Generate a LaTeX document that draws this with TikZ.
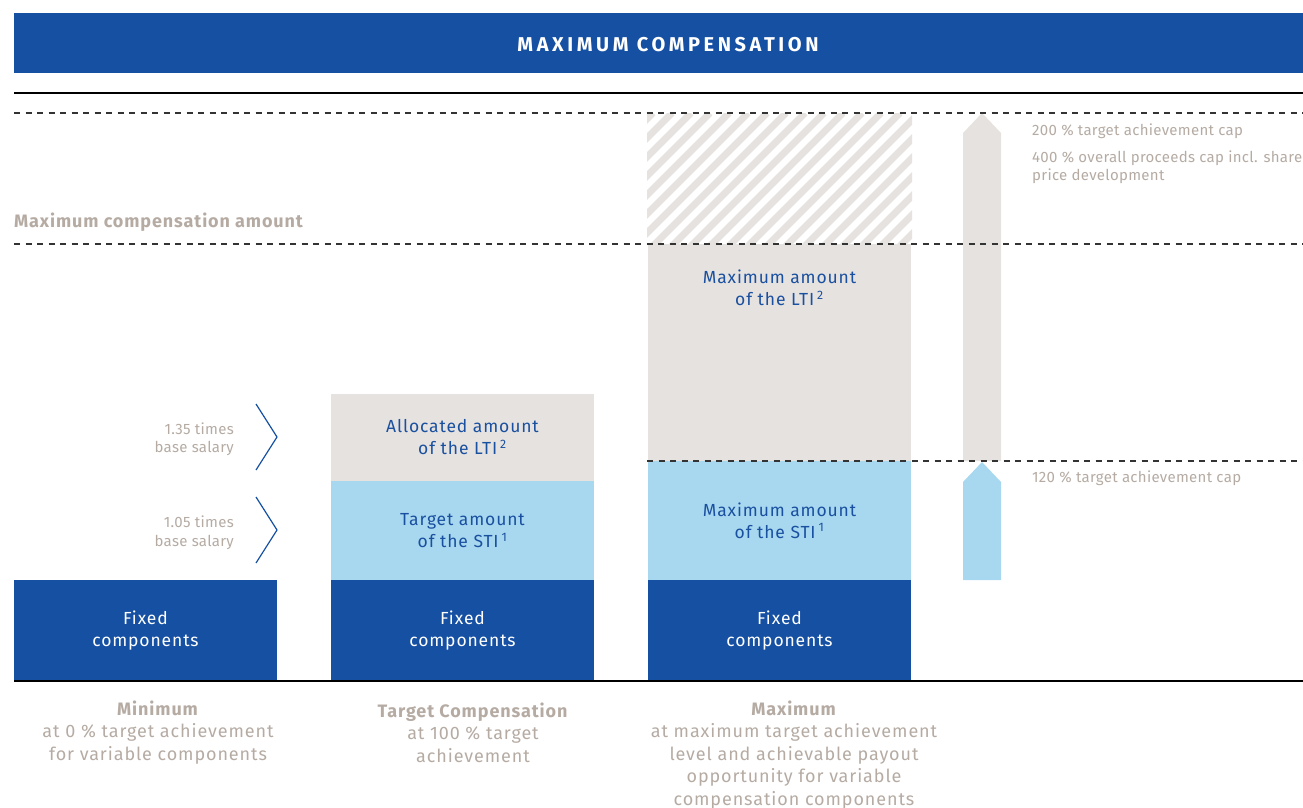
\documentclass[tikz,border=0pt]{standalone}
\usepackage{fontspec}
\setmainfont{Fira Sans}[LetterSpace=5]
\usetikzlibrary{positioning}
\definecolor{darkblue}{RGB}{21,80,163}
\definecolor{skyblue}{RGB}{168,216,239}
\definecolor{lightgrey}{RGB}{230,226,223}
\definecolor{taupe}{RGB}{181,171,163}
\definecolor{textblue}{RGB}{26,80,160}
\newcommand\barsize{\fontsize{17.5}{22}\selectfont}
\newcommand\notesize{\fontsize{15}{18.5}\selectfont\addfontfeatures{LetterSpace=2}}
\tikzset{
bar/.style={inner sep=0pt, minimum width=263pt, align=center, font=\barsize},
fixbar/.style={bar, fill=darkblue, text=white, minimum height=101pt},
stibar/.style={bar, fill=skyblue, text=textblue},
ltibar/.style={bar, fill=lightgrey, text=textblue},
capline/.style={black!80, line width=1.2pt, dash pattern=on 6pt off 5.5pt},
solidrule/.style={black, line width=1.5pt},
chevron/.style={darkblue, line width=1.2pt},
note/.style={text=taupe, inner sep=0pt, font=\notesize},
caption/.style={text=taupe, inner sep=0pt, align=center, font=\fontsize{18}{22.5}\selectfont},
hatchline/.style={lightgrey, line width=7pt},
}

\begin{document}
\begin{tikzpicture}[x=1pt, y=-1pt]
	\useasboundingbox (0,0) rectangle (1303,808);
	% header
	\node [fill=darkblue, inner sep=0pt, minimum width=1289pt, minimum height=60pt] (header) at (658.5,43) {};
	\node [text=white, font=\fontsize{20}{22}\selectfont\bfseries\addfontfeatures{LetterSpace=18}] (title) at (668,45) {MAXIMUM COMPENSATION};
	\draw [solidrule] (14,93) -- (1303,93);
	% hatched area above the LTI
	\begin{scope}
		\clip (647,113) rectangle (912,244);
		\foreach \i in {0,...,22}
			\draw [hatchline] (516+19*\i,250) -- ++(137,-137);
	\end{scope}
	% bars
	\node [fixbar] (fix1) at (145.5,630.5) {Fixed\\components};
	\node [fixbar] (fix2) at (462.5,630.5) {Fixed\\components};
	\node [fixbar] (fix3) at (779.5,630.5) {Fixed\\components};
	\node [stibar, minimum height=99pt] (sti2) at (462.5,530.5) {Target amount\\of the STI\,\textsuperscript{1}};
	\node [ltibar, minimum height=87pt] (lti2) at (462.5,437.5) {Allocated amount\\of the LTI\,\textsuperscript{2}};
	\node [stibar, minimum height=119pt] (sti3) at (779.5,520.5) {Maximum amount\\of the STI\,\textsuperscript{1}};
	\node [ltibar, minimum height=217pt] (lti3) at (779.5,352.5) {};
	\node [text=textblue, align=center, font=\barsize, inner sep=0pt] (lti3txt) at (779.5,288) {Maximum amount\\of the LTI\,\textsuperscript{2}};
	% arrows at the right
	\fill [lightgrey] (963,461) -- (963,133) -- (982,113) -- (1001,133) -- (1001,461) -- cycle;
	\fill [skyblue] (963,580) -- (963,482) -- (982,462) -- (1001,482) -- (1001,580) -- cycle;
	% cap lines
	\draw [capline] (14,113) -- (1303,113);
	\draw [capline] (14,244) -- (1303,244);
	\draw [capline] (647,461) -- (1303,461);
	\draw [solidrule] (14,681) -- (1303,681);
	\node [text=taupe, anchor=west, inner sep=0pt, font=\fontsize{18}{22}\selectfont\bfseries] (maxamount) at (14,222) {Maximum compensation amount};
	% notes
	\node [note, anchor=west] (cap200) at (1032,131) {200 \% target achievement cap};
	\node [note, anchor=west, align=left] (cap400) at (1032,167) {400 \% overall proceeds cap incl. share\\price development};
	\node [note, anchor=west] (cap120) at (1032,478) {120 \% target achievement cap};
	\node [note, anchor=east, align=right] (ltitimes) at (234,439) {1.35 times\\base salary};
	\node [note, anchor=east, align=right] (stitimes) at (234,532.5) {1.05 times\\base salary};
	% chevrons
	\coordinate (a1) at (256,404);
	\coordinate (a2) at (277,437);
	\coordinate (a3) at (256,470);
	\coordinate (b1) at (256,497);
	\coordinate (b2) at (277,530);
	\coordinate (b3) at (256,563);
	\draw [chevron] (a1) -- (a2) -- (a3);
	\draw [chevron] (b1) -- (b2) -- (b3);
	% captions
	\node [caption] (capmin) at (158,732.5) {\textbf{Minimum}\\at 0 \% target achievement\\for variable components};
	\node [caption] (captarget) at (473,732.5) {\textbf{Target Compensation}\\at 100 \% target\\achievement};
	\node [caption] (capmax) at (794,755) {\textbf{Maximum}\\at maximum target achievement\\level and achievable payout\\opportunity for variable\\compensation components};
\end{tikzpicture}
\end{document}
